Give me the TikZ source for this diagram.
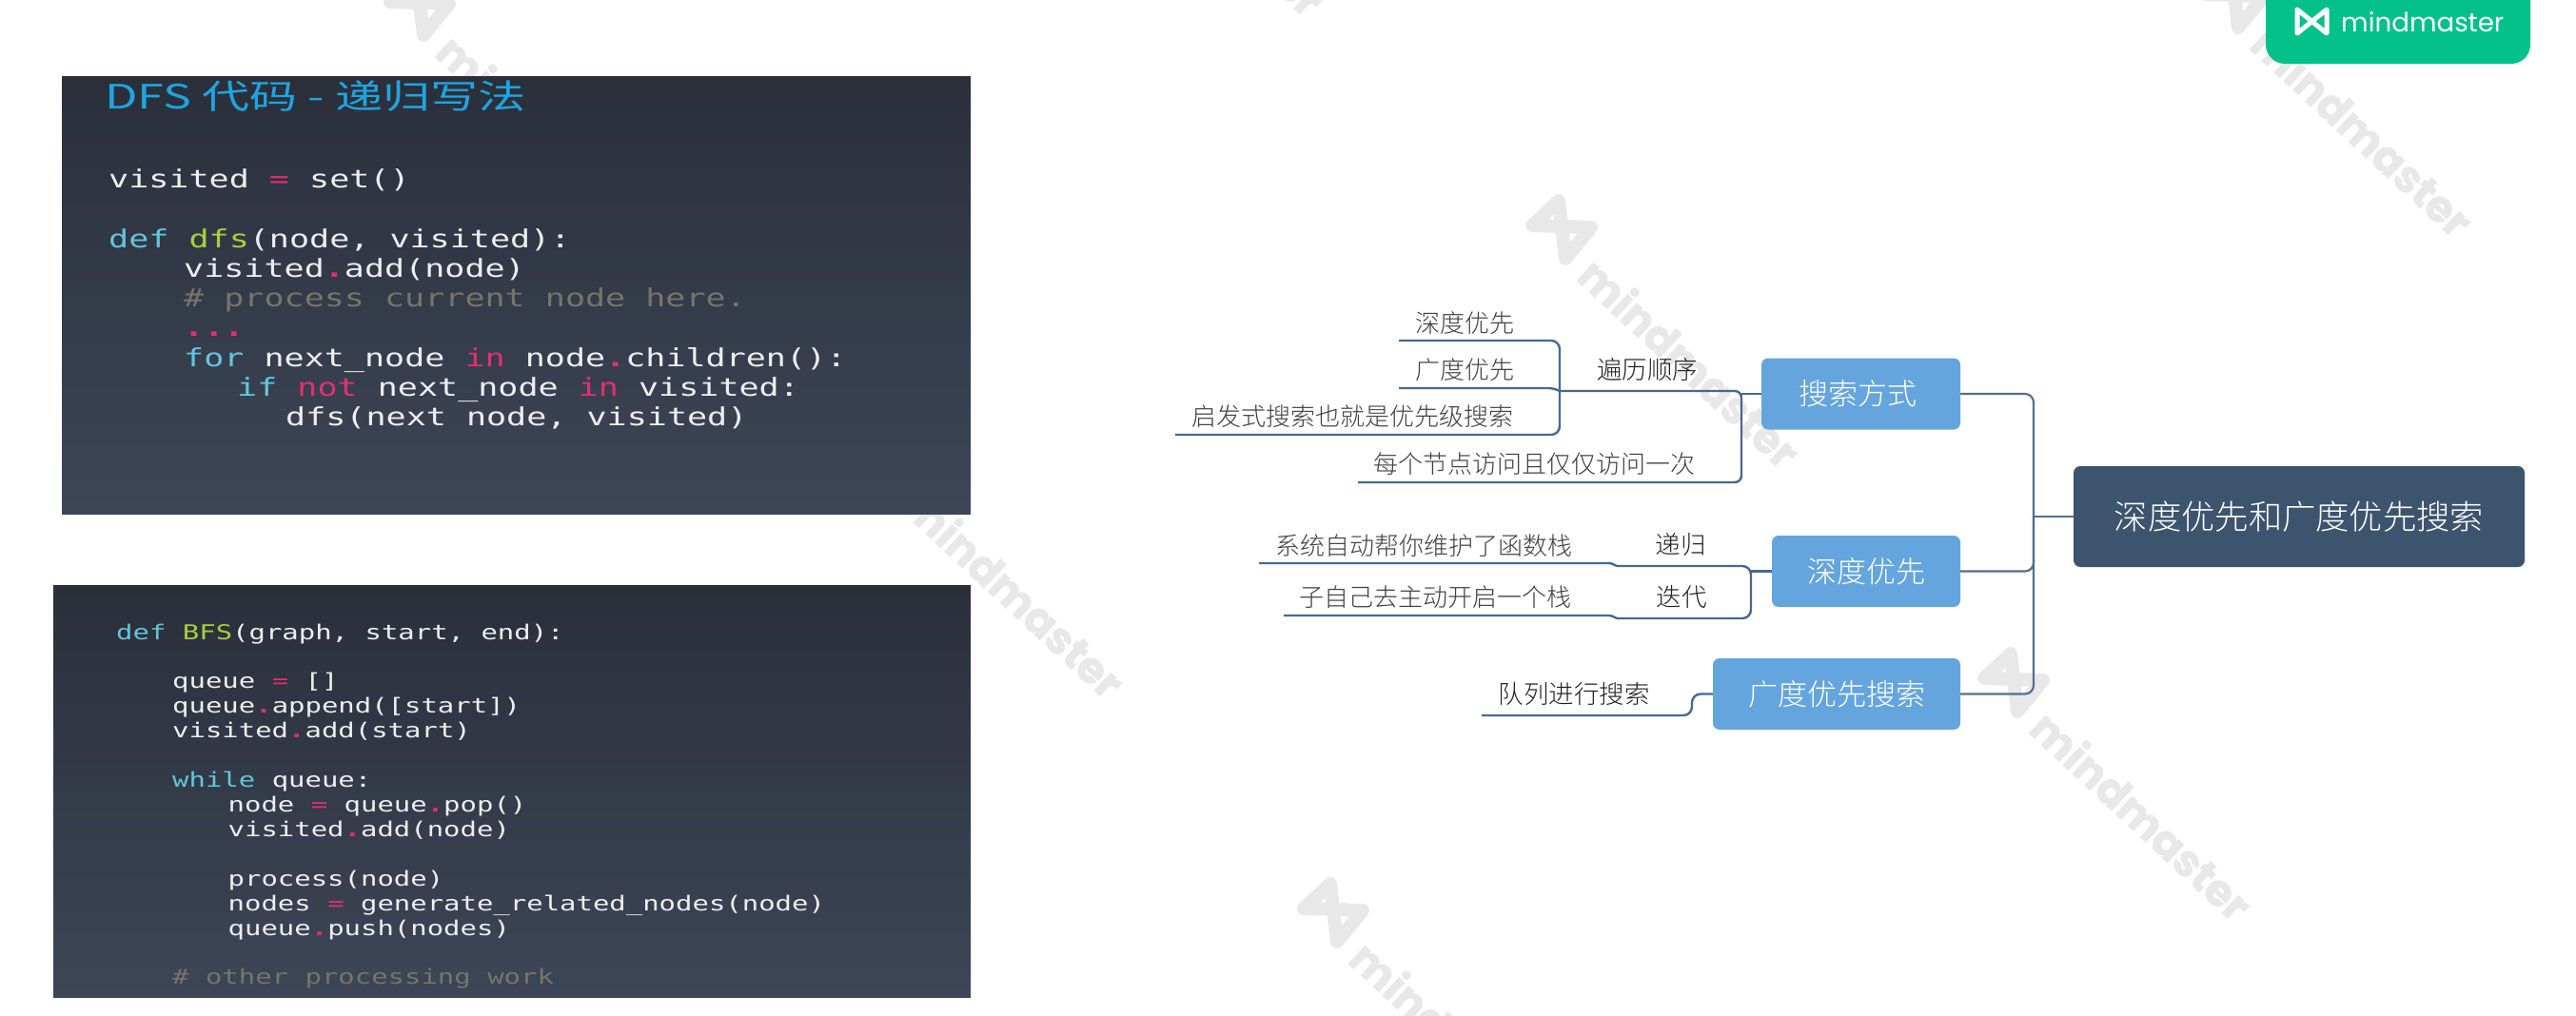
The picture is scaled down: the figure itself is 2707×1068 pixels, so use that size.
\documentclass[tikz,border=0pt]{standalone}
\usepackage{fontspec}
\newfontfamily\cjkfont{Noto Sans CJK SC}
\newfontfamily\cjklight{Noto Sans CJK SC Light}
\newfontfamily\cjkwide[FakeStretch=1.42]{Noto Sans CJK SC}
\newfontfamily\codefont[FakeStretch=1.34]{DejaVu Sans Mono}
\newfontfamily\wmfont[BoldFeatures={FakeBold=1.2}]{Poppins}
\definecolor{codefg}{HTML}{EDEEF0}
\definecolor{ckw}{HTML}{62C6DC}
\definecolor{cfn}{HTML}{A8CF3C}
\definecolor{cop}{HTML}{E0306F}
\definecolor{ccm}{HTML}{77756A}
\definecolor{ctitle}{HTML}{1EA5E0}
\definecolor{ptop}{HTML}{2A2F3A}
\definecolor{pbot}{HTML}{3D4657}
\definecolor{wm}{HTML}{E8E8E8}
\definecolor{boxblue}{HTML}{64A5DE}
\definecolor{rootblue}{HTML}{3D546F}
\definecolor{linkblue}{HTML}{47698F}
\definecolor{rootlink}{HTML}{52708F}
\definecolor{badge}{HTML}{04C189}
\definecolor{leafgray}{HTML}{404040}
\definecolor{labdark}{HTML}{222222}
\newcommand{\ckwd}[1]{\textcolor{ckw}{#1}}
\newcommand{\cfun}[1]{\textcolor{cfn}{#1}}
\newcommand{\copr}[1]{\textcolor{cop}{#1}}
\newcommand{\cpnc}[1]{\textcolor{cop}{\bfseries #1}}
\newcommand{\ccmt}[1]{\textcolor{ccm}{#1}}
\tikzset{
  x=1pt,y=-1pt,
  codeA/.style={anchor=base west,inner sep=0pt,text=codefg,font=\codefont\fontsize{26.15}{26.15}\selectfont},
  codeB/.style={anchor=base west,inner sep=0pt,text=codefg,font=\codefont\fontsize{21.6}{21.6}\selectfont},
  midbox/.style={fill=boxblue,rounded corners=7pt,inner sep=0pt,minimum height=75pt,text=white,font=\cjklight\fontsize{31}{31}\selectfont},
  rootbox/.style={fill=rootblue,rounded corners=7pt,inner sep=0pt,minimum width=474pt,minimum height=106pt,text=white,font=\cjklight\fontsize{35.3}{35.3}\selectfont},
  leaf/.style={inner sep=0pt,text=leafgray,font=\cjklight\fontsize{26}{26}\selectfont},
  lab/.style={inner sep=0pt,text=labdark,font=\cjklight\fontsize{26.5}{26.5}\selectfont},
  link/.style={draw=linkblue,line width=2.4pt,rounded corners=9pt},
  rootedge/.style={draw=rootlink,line width=2.2pt,rounded corners=9pt},
}
\newcommand{\wmark}[3]{%
  \begin{scope}[shift={(#2,#3)}]
    \draw[wm,line width=14pt,line join=round] (-30,-3) -- (-2,-29) -- (5,32) -- (32,-1) -- cycle;
    \node[rotate=-43,text=wm,inner sep=0pt,font=\wmfont\bfseries\fontsize{46}{46}\selectfont] (#1) at (136,141) {mindmaster};
  \end{scope}}
\begin{document}
\begin{tikzpicture}
\useasboundingbox (0,0) rectangle (2707,1068);
\clip (0,0) rectangle (2707,1068);
\fill[white] (0,0) rectangle (2707,1068);
% watermarks
\wmark{wa}{440}{5}
\wmark{wb}{930}{482}
\wmark{wc}{1640}{240}
\wmark{wd}{2115}{716}
\wmark{we}{1400}{958}
\wmark{wf}{2347}{-3}
\wmark{wg}{1140}{-235}
% code panels
\shade[top color=ptop,bottom color=pbot] (65,80) rectangle (1020,540);
\shade[top color=ptop,bottom color=pbot] (56,615) rectangle (1020,1048);
\node[anchor=base west,inner sep=0pt,text=ctitle,font=\cjkwide\fontsize{35.3}{35.3}\selectfont] (dfstitle) at (110,114) {DFS 代码 - 递归写法};
\node[codeA] (a1) at (114,197.5) {visited \copr{=} set()};
\node[codeA] (a2) at (114,260) {\ckwd{def} \cfun{dfs}(node, visited):};
\node[codeA] (a3) at (193,291) {visited\cpnc{.}add(node)};
\node[codeA] (a4) at (193,322.5) {\ccmt{\# process current node here.}};
\node[codeA] (a5) at (193,353.5) {\cpnc{...}};
\node[codeA] (a6) at (193,385) {\ckwd{for} next\_node \copr{in} node\cpnc{.}children():};
\node[codeA] (a7) at (249,416) {\ckwd{if} \copr{not} next\_node \copr{in} visited:};
\node[codeA] (a8) at (300,447.5) {dfs(next node, visited)};
\node[codeB] (b1) at (122,672) {\ckwd{def} \cfun{BFS}(graph, start, end):};
\node[codeB] (b2) at (181,723.5) {queue \copr{=} []};
\node[codeB] (b3) at (181,749) {queue\cpnc{.}append([start])};
\node[codeB] (b4) at (181,775) {visited\cpnc{.}add(start)};
\node[codeB] (b5) at (181,827) {\ckwd{while} queue:};
\node[codeB] (b6) at (239.5,853) {node \copr{=} queue\cpnc{.}pop()};
\node[codeB] (b7) at (239.5,879) {visited\cpnc{.}add(node)};
\node[codeB] (b8) at (239.5,931) {process(node)};
\node[codeB] (b9) at (239.5,957) {nodes \copr{=} generate\_related\_nodes(node)};
\node[codeB] (b10) at (239.5,983) {queue\cpnc{.}push(nodes)};
\node[codeB] (b11) at (181,1034) {\ccmt{\# other processing work}};
% mind map boxes
\node[rootbox] (root) at (2416,543) {深度优先和广度优先搜索};
\node[midbox,minimum width=209pt,align=center] (sf) at (1955.5,414) {\hspace*{-6pt}搜索方式};
\node[midbox,minimum width=198pt] (dy) at (1961,600.5) {深度优先};
\node[midbox,minimum width=260pt] (gd) at (1930,729.5) {广度优先搜索};
% leaf line ends and joints
\coordinate (busmid) at (2137,543);
\coordinate (sfx) at (1830,414);
\coordinate (sfdown) at (1830,507);
\coordinate (l4end) at (1427,507);
\coordinate (tra) at (1639,411);
\coordinate (l1end) at (1470,358);
\coordinate (l1c) at (1639,358);
\coordinate (l2end) at (1470,408);
\coordinate (l3c) at (1639,457);
\coordinate (l3end) at (1235,457);
\coordinate (dyx) at (1840,600.5);
\coordinate (dyt) at (1840,595);
\coordinate (dyb) at (1840,650);
\coordinate (s1) at (1699,595);
\coordinate (s1end) at (1323,592);
\coordinate (s2) at (1699,650);
\coordinate (s2end) at (1349,647);
\coordinate (gdx) at (1778,729.5);
\coordinate (q1) at (1778,752);
\coordinate (q1end) at (1557,752);
% connectors
\draw[rootedge] (root.west) -- (busmid);
\draw[rootedge] (sf.east) -| (busmid);
\draw[rootedge] (dy.east) -| (busmid);
\draw[rootedge] (gd.east) -| (busmid);
\draw[link] (sf.west) -- (sfx);
\draw[link,rounded corners=7pt] (tra) -- (1830,411) -- (sfdown) -- (l4end);
\draw[link] (l1end) -- (l1c) -- (l3c) -- (l3end);
\draw[link,rounded corners=5pt] (l2end) -- (1632,408) -- (tra);
\draw[link,rounded corners=0pt] (dy.west) -- (dyx);
\draw[link] (s1) -- (dyt) -- (dyb) -- (s2);
\draw[link,rounded corners=0pt] (s1) .. controls (1693,592) .. (1688,592) -- (s1end);
\draw[link,rounded corners=0pt] (s2) .. controls (1693,647) .. (1688,647) -- (s2end);
\draw[link] (gd.west) -- (gdx) -- (q1) -- (q1end);
% leaf texts
\node[leaf] (t1) at (1539,340) {深度优先};
\node[leaf] (t2) at (1539,389) {广度优先};
\node[leaf] (t3) at (1421.5,438) {启发式搜索也就是优先级搜索};
\node[leaf] (t4) at (1612,488) {每个节点访问且仅仅访问一次};
\node[lab] (t5) at (1731,388) {遍历顺序};
\node[leaf] (t6) at (1496,574) {系统自动帮你维护了函数栈};
\node[leaf] (t7) at (1508.5,628) {子自己去主动开启一个栈};
\node[lab] (t8) at (1766,572) {递归};
\node[lab] (t9) at (1767,627) {迭代};
\node[lab] (t10) at (1654,729) {队列进行搜索};
% badge
\fill[badge,rounded corners=20pt] (2381,-30) rectangle (2659,67);
\draw[white,line width=5pt,line join=round,line cap=round] (2414,10) -- (2414,35) -- (2445,10) -- (2445,35) -- (2414,10);
\node[anchor=base west,inner sep=0pt,text=white,font=\wmfont\fontsize{27.7}{27.7}\selectfont] (brand) at (2460,33) {mindmaster};
\end{tikzpicture}
\end{document}
